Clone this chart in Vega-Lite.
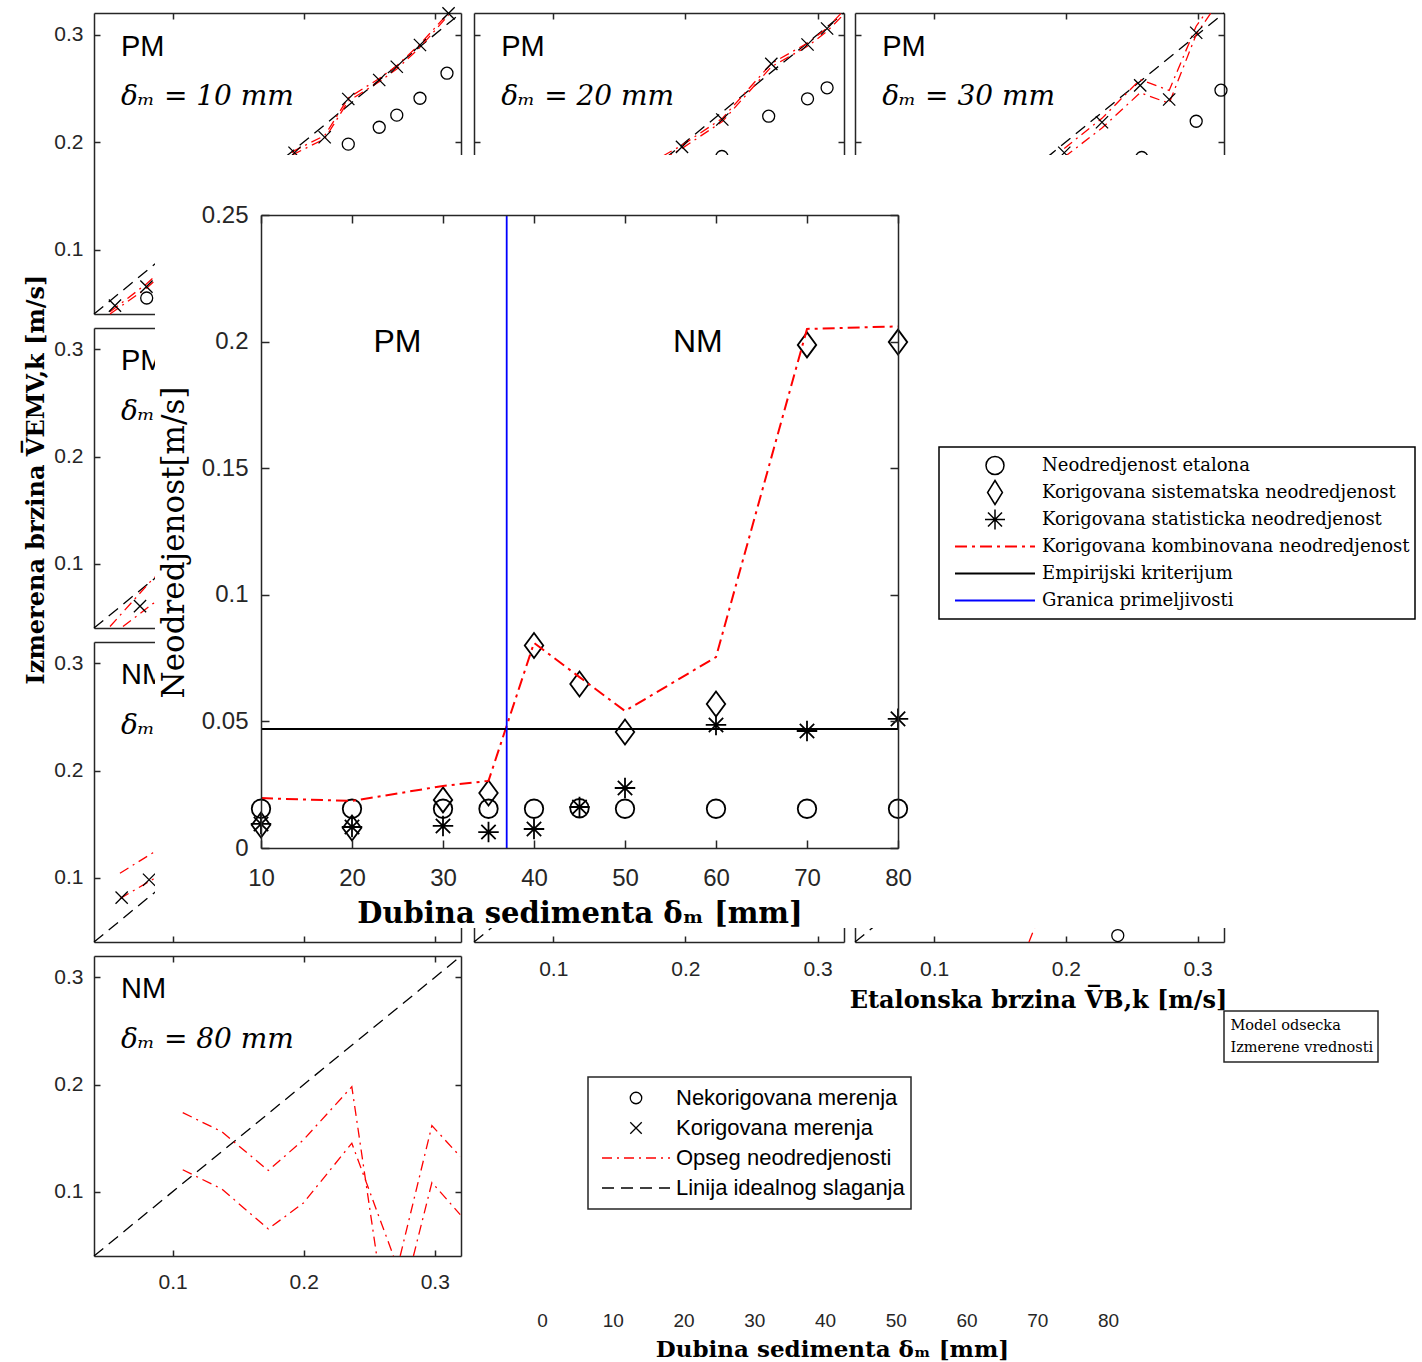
{
  "$schema": "https://vega.github.io/schema/vega-lite/v6.json",
  "autosize": {"type": "none"},
  "width": 1422,
  "height": 1362,
  "padding": 0,
  "background": "white",
  "config": {
    "view": {"stroke": null},
    "axis": {
      "grid": false,
      "domainColor": "#262626",
      "domainWidth": 1.5,
      "tickColor": "#262626",
      "tickWidth": 1.5,
      "labelColor": "#262626",
      "labelFont": "Liberation Sans",
      "labelFontSize": 21,
      "labelFlush": false,
      "labelOverlap": false,
      "titleColor": "black"
    }
  },
  "datasets": {
    "pts": [
      {"d": 10, "u": 0.0155, "s": "Neodredjenost etalona"},
      {"d": 20, "u": 0.0155, "s": "Neodredjenost etalona"},
      {"d": 30, "u": 0.0155, "s": "Neodredjenost etalona"},
      {"d": 35, "u": 0.0155, "s": "Neodredjenost etalona"},
      {"d": 40, "u": 0.0155, "s": "Neodredjenost etalona"},
      {"d": 45, "u": 0.0157, "s": "Neodredjenost etalona"},
      {"d": 50, "u": 0.0155, "s": "Neodredjenost etalona"},
      {"d": 60, "u": 0.0155, "s": "Neodredjenost etalona"},
      {"d": 70, "u": 0.0155, "s": "Neodredjenost etalona"},
      {"d": 80, "u": 0.0155, "s": "Neodredjenost etalona"},
      {"d": 10, "u": 0.0091, "s": "Korigovana sistematska neodredjenost"},
      {"d": 20, "u": 0.0079, "s": "Korigovana sistematska neodredjenost"},
      {"d": 30, "u": 0.019, "s": "Korigovana sistematska neodredjenost"},
      {"d": 35, "u": 0.0217, "s": "Korigovana sistematska neodredjenost"},
      {"d": 40, "u": 0.080, "s": "Korigovana sistematska neodredjenost"},
      {"d": 45, "u": 0.0648, "s": "Korigovana sistematska neodredjenost"},
      {"d": 50, "u": 0.0458, "s": "Korigovana sistematska neodredjenost"},
      {"d": 60, "u": 0.0569, "s": "Korigovana sistematska neodredjenost"},
      {"d": 70, "u": 0.1987, "s": "Korigovana sistematska neodredjenost"},
      {"d": 80, "u": 0.1998, "s": "Korigovana sistematska neodredjenost"},
      {"d": 10, "u": 0.0095, "s": "Korigovana statisticka neodredjenost"},
      {"d": 20, "u": 0.0083, "s": "Korigovana statisticka neodredjenost"},
      {"d": 30, "u": 0.0087, "s": "Korigovana statisticka neodredjenost"},
      {"d": 35, "u": 0.0063, "s": "Korigovana statisticka neodredjenost"},
      {"d": 40, "u": 0.0075, "s": "Korigovana statisticka neodredjenost"},
      {"d": 45, "u": 0.0162, "s": "Korigovana statisticka neodredjenost"},
      {"d": 50, "u": 0.0237, "s": "Korigovana statisticka neodredjenost"},
      {"d": 60, "u": 0.0486, "s": "Korigovana statisticka neodredjenost"},
      {"d": 70, "u": 0.0462, "s": "Korigovana statisticka neodredjenost"},
      {"d": 80, "u": 0.0510, "s": "Korigovana statisticka neodredjenost"}
    ],
    "komb": [
      {"d": 10, "u": 0.0197, "s": "Korigovana kombinovana neodredjenost"},
      {"d": 20, "u": 0.0186, "s": "Korigovana kombinovana neodredjenost"},
      {"d": 30, "u": 0.0245, "s": "Korigovana kombinovana neodredjenost"},
      {"d": 35, "u": 0.0265, "s": "Korigovana kombinovana neodredjenost"},
      {"d": 40, "u": 0.081, "s": "Korigovana kombinovana neodredjenost"},
      {"d": 45, "u": 0.0675, "s": "Korigovana kombinovana neodredjenost"},
      {"d": 50, "u": 0.0541, "s": "Korigovana kombinovana neodredjenost"},
      {"d": 60, "u": 0.0754, "s": "Korigovana kombinovana neodredjenost"},
      {"d": 70, "u": 0.205, "s": "Korigovana kombinovana neodredjenost"},
      {"d": 80, "u": 0.206, "s": "Korigovana kombinovana neodredjenost"}
    ],
    "crit": [{"u": 0.047, "s": "Empirijski kriterijum"}],
    "gran": [{"d": 37, "s": "Granica primeljivosti"}],
    "lbl": [{"d": 25, "u": 0.2, "t": "PM"}, {"d": 58, "u": 0.2, "t": "NM"}],
    "ideal": [
      {"x": 0.04, "y": 0.04, "p": "Linija idealnog slaganja"},
      {"x": 0.32, "y": 0.32, "p": "Linija idealnog slaganja"}
    ],
    "bx": [{"d": 0, "m": "Model odsecka"}, {"d": 80, "m": "Izmerene vrednosti"}],
    "ptxt": [
      {"pn": "r1c1", "kind": "r", "t": "PM", "x": 0.0606, "y": 0.2888},
      {"pn": "r1c1", "kind": "d", "t": "δₘ = 10 mm", "x": 0.0606, "y": 0.2414},
      {"pn": "r1c2", "kind": "r", "t": "PM", "x": 0.0606, "y": 0.2888},
      {"pn": "r1c2", "kind": "d", "t": "δₘ = 20 mm", "x": 0.0606, "y": 0.2414},
      {"pn": "r1c3", "kind": "r", "t": "PM", "x": 0.0606, "y": 0.2888},
      {"pn": "r1c3", "kind": "d", "t": "δₘ = 30 mm", "x": 0.0606, "y": 0.2414},
      {"pn": "r2c1", "kind": "r", "t": "PM", "x": 0.0606, "y": 0.2888},
      {"pn": "r2c1", "kind": "d", "t": "δₘ = 35 mm", "x": 0.0606, "y": 0.2414},
      {"pn": "r3c1", "kind": "r", "t": "NM", "x": 0.0606, "y": 0.2888},
      {"pn": "r3c1", "kind": "d", "t": "δₘ = 50 mm", "x": 0.0606, "y": 0.2414},
      {"pn": "r4c1", "kind": "r", "t": "NM", "x": 0.0606, "y": 0.2888},
      {"pn": "r4c1", "kind": "d", "t": "δₘ = 80 mm", "x": 0.0606, "y": 0.2414}
    ],
    "pan": [
      {"pn": "r1c1", "p": "Korigovana merenja", "g": "x", "x": 0.056, "y": 0.0478},
      {"pn": "r1c1", "p": "Korigovana merenja", "g": "x", "x": 0.080, "y": 0.0655},
      {"pn": "r1c1", "p": "Korigovana merenja", "g": "x", "x": 0.193, "y": 0.190},
      {"pn": "r1c1", "p": "Korigovana merenja", "g": "x", "x": 0.216, "y": 0.2044},
      {"pn": "r1c1", "p": "Korigovana merenja", "g": "x", "x": 0.234, "y": 0.240},
      {"pn": "r1c1", "p": "Korigovana merenja", "g": "x", "x": 0.2576, "y": 0.2577},
      {"pn": "r1c1", "p": "Korigovana merenja", "g": "x", "x": 0.271, "y": 0.270},
      {"pn": "r1c1", "p": "Korigovana merenja", "g": "x", "x": 0.2887, "y": 0.2902},
      {"pn": "r1c1", "p": "Korigovana merenja", "g": "x", "x": 0.3105, "y": 0.3197},
      {"pn": "r1c1", "p": "Nekorigovana merenja", "g": "o", "x": 0.0802, "y": 0.0549},
      {"pn": "r1c1", "p": "Nekorigovana merenja", "g": "o", "x": 0.234, "y": 0.198},
      {"pn": "r1c1", "p": "Nekorigovana merenja", "g": "o", "x": 0.2576, "y": 0.2137},
      {"pn": "r1c1", "p": "Nekorigovana merenja", "g": "o", "x": 0.271, "y": 0.225},
      {"pn": "r1c1", "p": "Nekorigovana merenja", "g": "o", "x": 0.2887, "y": 0.2407},
      {"pn": "r1c1", "p": "Nekorigovana merenja", "g": "o", "x": 0.3093, "y": 0.264},
      {"pn": "r1c1", "p": "Opseg neodredjenosti", "g": "u", "x": 0.0522, "y": 0.042},
      {"pn": "r1c1", "p": "Opseg neodredjenosti", "g": "u", "x": 0.080, "y": 0.068},
      {"pn": "r1c1", "p": "Opseg neodredjenosti", "g": "u", "x": 0.193, "y": 0.192},
      {"pn": "r1c1", "p": "Opseg neodredjenosti", "g": "u", "x": 0.216, "y": 0.206},
      {"pn": "r1c1", "p": "Opseg neodredjenosti", "g": "u", "x": 0.234, "y": 0.241},
      {"pn": "r1c1", "p": "Opseg neodredjenosti", "g": "u", "x": 0.2576, "y": 0.259},
      {"pn": "r1c1", "p": "Opseg neodredjenosti", "g": "u", "x": 0.271, "y": 0.271},
      {"pn": "r1c1", "p": "Opseg neodredjenosti", "g": "u", "x": 0.2887, "y": 0.291},
      {"pn": "r1c1", "p": "Opseg neodredjenosti", "g": "u", "x": 0.3105, "y": 0.32},
      {"pn": "r1c1", "p": "Opseg neodredjenosti", "g": "l", "x": 0.0522, "y": 0.040},
      {"pn": "r1c1", "p": "Opseg neodredjenosti", "g": "l", "x": 0.080, "y": 0.064},
      {"pn": "r1c1", "p": "Opseg neodredjenosti", "g": "l", "x": 0.193, "y": 0.189},
      {"pn": "r1c1", "p": "Opseg neodredjenosti", "g": "l", "x": 0.216, "y": 0.203},
      {"pn": "r1c1", "p": "Opseg neodredjenosti", "g": "l", "x": 0.234, "y": 0.238},
      {"pn": "r1c1", "p": "Opseg neodredjenosti", "g": "l", "x": 0.2576, "y": 0.256},
      {"pn": "r1c1", "p": "Opseg neodredjenosti", "g": "l", "x": 0.271, "y": 0.268},
      {"pn": "r1c1", "p": "Opseg neodredjenosti", "g": "l", "x": 0.2887, "y": 0.288},
      {"pn": "r1c1", "p": "Opseg neodredjenosti", "g": "l", "x": 0.3105, "y": 0.318},
      {"pn": "r1c2", "p": "Korigovana merenja", "g": "x", "x": 0.1974, "y": 0.1955},
      {"pn": "r1c2", "p": "Korigovana merenja", "g": "x", "x": 0.2279, "y": 0.2209},
      {"pn": "r1c2", "p": "Korigovana merenja", "g": "x", "x": 0.265, "y": 0.2727},
      {"pn": "r1c2", "p": "Korigovana merenja", "g": "x", "x": 0.2924, "y": 0.2907},
      {"pn": "r1c2", "p": "Korigovana merenja", "g": "x", "x": 0.3072, "y": 0.3056},
      {"pn": "r1c2", "p": "Nekorigovana merenja", "g": "o", "x": 0.2276, "y": 0.1865},
      {"pn": "r1c2", "p": "Nekorigovana merenja", "g": "o", "x": 0.263, "y": 0.224},
      {"pn": "r1c2", "p": "Nekorigovana merenja", "g": "o", "x": 0.2924, "y": 0.2402},
      {"pn": "r1c2", "p": "Nekorigovana merenja", "g": "o", "x": 0.3072, "y": 0.2504},
      {"pn": "r1c2", "p": "Opseg neodredjenosti", "g": "u", "x": 0.183, "y": 0.187},
      {"pn": "r1c2", "p": "Opseg neodredjenosti", "g": "u", "x": 0.1974, "y": 0.197},
      {"pn": "r1c2", "p": "Opseg neodredjenosti", "g": "u", "x": 0.2279, "y": 0.222},
      {"pn": "r1c2", "p": "Opseg neodredjenosti", "g": "u", "x": 0.265, "y": 0.273},
      {"pn": "r1c2", "p": "Opseg neodredjenosti", "g": "u", "x": 0.2924, "y": 0.292},
      {"pn": "r1c2", "p": "Opseg neodredjenosti", "g": "u", "x": 0.3072, "y": 0.306},
      {"pn": "r1c2", "p": "Opseg neodredjenosti", "g": "u", "x": 0.318, "y": 0.32},
      {"pn": "r1c2", "p": "Opseg neodredjenosti", "g": "l", "x": 0.183, "y": 0.184},
      {"pn": "r1c2", "p": "Opseg neodredjenosti", "g": "l", "x": 0.1974, "y": 0.194},
      {"pn": "r1c2", "p": "Opseg neodredjenosti", "g": "l", "x": 0.2279, "y": 0.219},
      {"pn": "r1c2", "p": "Opseg neodredjenosti", "g": "l", "x": 0.265, "y": 0.270},
      {"pn": "r1c2", "p": "Opseg neodredjenosti", "g": "l", "x": 0.2924, "y": 0.289},
      {"pn": "r1c2", "p": "Opseg neodredjenosti", "g": "l", "x": 0.3072, "y": 0.303},
      {"pn": "r1c2", "p": "Opseg neodredjenosti", "g": "l", "x": 0.32, "y": 0.319},
      {"pn": "r1c3", "p": "Korigovana merenja", "g": "x", "x": 0.1988, "y": 0.19},
      {"pn": "r1c3", "p": "Korigovana merenja", "g": "x", "x": 0.2274, "y": 0.2184},
      {"pn": "r1c3", "p": "Korigovana merenja", "g": "x", "x": 0.2564, "y": 0.2526},
      {"pn": "r1c3", "p": "Korigovana merenja", "g": "x", "x": 0.2784, "y": 0.2395},
      {"pn": "r1c3", "p": "Korigovana merenja", "g": "x", "x": 0.2989, "y": 0.3016},
      {"pn": "r1c3", "p": "Nekorigovana merenja", "g": "o", "x": 0.2576, "y": 0.1856},
      {"pn": "r1c3", "p": "Nekorigovana merenja", "g": "o", "x": 0.2989, "y": 0.2193},
      {"pn": "r1c3", "p": "Nekorigovana merenja", "g": "o", "x": 0.3177, "y": 0.2482},
      {"pn": "r1c3", "p": "Opseg neodredjenosti", "g": "u", "x": 0.1988, "y": 0.194},
      {"pn": "r1c3", "p": "Opseg neodredjenosti", "g": "u", "x": 0.2274, "y": 0.222},
      {"pn": "r1c3", "p": "Opseg neodredjenosti", "g": "u", "x": 0.2564, "y": 0.2581},
      {"pn": "r1c3", "p": "Opseg neodredjenosti", "g": "u", "x": 0.2784, "y": 0.248},
      {"pn": "r1c3", "p": "Opseg neodredjenosti", "g": "u", "x": 0.2989, "y": 0.3077},
      {"pn": "r1c3", "p": "Opseg neodredjenosti", "g": "u", "x": 0.306, "y": 0.32},
      {"pn": "r1c3", "p": "Opseg neodredjenosti", "g": "l", "x": 0.1988, "y": 0.186},
      {"pn": "r1c3", "p": "Opseg neodredjenosti", "g": "l", "x": 0.2274, "y": 0.213},
      {"pn": "r1c3", "p": "Opseg neodredjenosti", "g": "l", "x": 0.2564, "y": 0.2458},
      {"pn": "r1c3", "p": "Opseg neodredjenosti", "g": "l", "x": 0.2784, "y": 0.236},
      {"pn": "r1c3", "p": "Opseg neodredjenosti", "g": "l", "x": 0.2989, "y": 0.300},
      {"pn": "r1c3", "p": "Opseg neodredjenosti", "g": "l", "x": 0.310, "y": 0.32},
      {"pn": "r2c1", "p": "Korigovana merenja", "g": "x", "x": 0.0751, "y": 0.0604},
      {"pn": "r2c1", "p": "Opseg neodredjenosti", "g": "u", "x": 0.0522, "y": 0.0414},
      {"pn": "r2c1", "p": "Opseg neodredjenosti", "g": "u", "x": 0.0853, "y": 0.0864},
      {"pn": "r2c1", "p": "Opseg neodredjenosti", "g": "u", "x": 0.095, "y": 0.094},
      {"pn": "r2c1", "p": "Opseg neodredjenosti", "g": "l", "x": 0.0621, "y": 0.0414},
      {"pn": "r2c1", "p": "Opseg neodredjenosti", "g": "l", "x": 0.085, "y": 0.0628},
      {"pn": "r2c1", "p": "Opseg neodredjenosti", "g": "l", "x": 0.095, "y": 0.070},
      {"pn": "r3c1", "p": "Korigovana merenja", "g": "x", "x": 0.0611, "y": 0.0814},
      {"pn": "r3c1", "p": "Korigovana merenja", "g": "x", "x": 0.082, "y": 0.0981},
      {"pn": "r3c1", "p": "Opseg neodredjenosti", "g": "u", "x": 0.0598, "y": 0.1042},
      {"pn": "r3c1", "p": "Opseg neodredjenosti", "g": "u", "x": 0.085, "y": 0.1233},
      {"pn": "r3c1", "p": "Opseg neodredjenosti", "g": "u", "x": 0.095, "y": 0.130},
      {"pn": "r3c1", "p": "Opseg neodredjenosti", "g": "l", "x": 0.0598, "y": 0.0805},
      {"pn": "r3c1", "p": "Opseg neodredjenosti", "g": "l", "x": 0.085, "y": 0.0986},
      {"pn": "r3c1", "p": "Opseg neodredjenosti", "g": "l", "x": 0.095, "y": 0.105},
      {"pn": "r3c3", "p": "Nekorigovana merenja", "g": "o", "x": 0.2394, "y": 0.046},
      {"pn": "r3c3", "p": "Opseg neodredjenosti", "g": "l", "x": 0.172, "y": 0.04},
      {"pn": "r3c3", "p": "Opseg neodredjenosti", "g": "l", "x": 0.18, "y": 0.065},
      {"pn": "r4c1", "p": "Opseg neodredjenosti", "g": "ua", "x": 0.1077, "y": 0.1738},
      {"pn": "r4c1", "p": "Opseg neodredjenosti", "g": "ua", "x": 0.1375, "y": 0.156},
      {"pn": "r4c1", "p": "Opseg neodredjenosti", "g": "ua", "x": 0.173, "y": 0.1198},
      {"pn": "r4c1", "p": "Opseg neodredjenosti", "g": "ua", "x": 0.1998, "y": 0.1484},
      {"pn": "r4c1", "p": "Opseg neodredjenosti", "g": "ua", "x": 0.2367, "y": 0.198},
      {"pn": "r4c1", "p": "Opseg neodredjenosti", "g": "ua", "x": 0.2557, "y": 0.04},
      {"pn": "r4c1", "p": "Opseg neodredjenosti", "g": "ub", "x": 0.2736, "y": 0.04},
      {"pn": "r4c1", "p": "Opseg neodredjenosti", "g": "ub", "x": 0.2978, "y": 0.1617},
      {"pn": "r4c1", "p": "Opseg neodredjenosti", "g": "ub", "x": 0.3194, "y": 0.1329},
      {"pn": "r4c1", "p": "Opseg neodredjenosti", "g": "la", "x": 0.1077, "y": 0.1205},
      {"pn": "r4c1", "p": "Opseg neodredjenosti", "g": "la", "x": 0.1375, "y": 0.1025},
      {"pn": "r4c1", "p": "Opseg neodredjenosti", "g": "la", "x": 0.173, "y": 0.0653},
      {"pn": "r4c1", "p": "Opseg neodredjenosti", "g": "la", "x": 0.1998, "y": 0.0895},
      {"pn": "r4c1", "p": "Opseg neodredjenosti", "g": "la", "x": 0.2367, "y": 0.1453},
      {"pn": "r4c1", "p": "Opseg neodredjenosti", "g": "la", "x": 0.2685, "y": 0.04},
      {"pn": "r4c1", "p": "Opseg neodredjenosti", "g": "lb", "x": 0.2837, "y": 0.04},
      {"pn": "r4c1", "p": "Opseg neodredjenosti", "g": "lb", "x": 0.2978, "y": 0.1086},
      {"pn": "r4c1", "p": "Opseg neodredjenosti", "g": "lb", "x": 0.3194, "y": 0.0786}
    ]
  },
  "layer": [
    {
      "layer": [
        {
          "data": {"name": "ideal"},
          "mark": {"type": "line", "strokeDash": [12, 7], "strokeWidth": 1.3},
          "encoding": {
            "x": {"field": "x", "type": "quantitative", "scale": {"domain": [0.04, 0.32], "range": [94, 461], "nice": false, "zero": false},
              "axis": {"orient": "bottom", "offset": -1048, "values": [0.1, 0.2, 0.3], "tickSize": -6, "labels": false, "title": null}},
            "y": {"field": "y", "type": "quantitative", "scale": {"domain": [0.04, 0.32], "range": [314, 13], "nice": false, "zero": false},
              "axis": {"orient": "left", "offset": -94, "values": [0.1, 0.2, 0.3], "tickSize": -6, "labelPadding": 17, "format": "~g", "title": null}},
            "stroke": {"field": "p", "type": "nominal",
              "scale": {"domain": ["Nekorigovana merenja", "Korigovana merenja", "Opseg neodredjenosti", "Linija idealnog slaganja"], "range": ["#000000", "#000000", "#ff0000", "#000000"]},
              "legend": {
                "orient": "none", "legendX": 588, "legendY": 1077, "title": null, "padding": 6,
                "strokeColor": "#262626", "fillColor": "white",
                "labelFont": "Liberation Sans", "labelFontSize": 22, "labelColor": "black", "labelOffset": 12, "labelLimit": 700,
                "symbolSize": 144, "symbolStrokeWidth": 1.2, "rowPadding": 0, "clipHeight": 30,
                "encoding": {
                  "legend": {"strokeWidth": {"value": 1.5}},
                  "symbols": {
                    "x": {"value": 42},
                    "shape": {"value": {"expr": "datum.value === 'Nekorigovana merenja' ? 'circle' : datum.value === 'Korigovana merenja' ? 'M-1,-1L1,1M-1,1L1,-1' : 'stroke'"}},
                    "size": {"value": {"expr": "datum.value === 'Nekorigovana merenja' ? 132 : datum.value === 'Korigovana merenja' ? 132 : 4624"}},
                    "stroke": {"value": {"expr": "datum.value === 'Opseg neodredjenosti' ? '#ff0000' : '#000000'"}},
                    "strokeDash": {"value": {"expr": "datum.value === 'Opseg neodredjenosti' ? [10,5,2,5] : datum.value === 'Linija idealnog slaganja' ? [12,7] : []"}},
                    "strokeWidth": {"value": 1.3},
                    "fill": {"value": "transparent"},
                    "opacity": {"value": 1}
                  }
                }
              }}
          }
        },
        {
          "data": {"name": "ideal"},
          "mark": {"type": "line", "opacity": 0},
          "encoding": {
            "x": {"field": "x", "type": "quantitative", "scale": {"domain": [0.04, 0.32], "range": [94, 461], "nice": false, "zero": false},
              "axis": {"orient": "top", "offset": -13, "values": [0.1, 0.2, 0.3], "tickSize": -6, "labels": false, "title": null}},
            "y": {"field": "y", "type": "quantitative", "scale": {"domain": [0.04, 0.32], "range": [314, 13], "nice": false, "zero": false},
              "axis": {"orient": "right", "offset": -961, "values": [0.1, 0.2, 0.3], "tickSize": -6, "labels": false, "title": null}}
          }
        },
        {
          "data": {"name": "pan"},
          "transform": [{"filter": "datum.pn === 'r1c1' && datum.p === 'Opseg neodredjenosti'"}],
          "mark": {"type": "line", "strokeDash": [10, 5, 2, 5], "strokeWidth": 1.3},
          "encoding": {
            "x": {"field": "x", "type": "quantitative", "scale": {"domain": [0.04, 0.32], "range": [94, 461], "nice": false, "zero": false}, "axis": null},
            "y": {"field": "y", "type": "quantitative", "scale": {"domain": [0.04, 0.32], "range": [314, 13], "nice": false, "zero": false}, "axis": null},
            "detail": {"field": "g"},
            "stroke": {"field": "p", "type": "nominal", "scale": {"domain": ["Nekorigovana merenja", "Korigovana merenja", "Opseg neodredjenosti", "Linija idealnog slaganja"], "range": ["#000000", "#000000", "#ff0000", "#000000"]}}
          }
        },
        {
          "data": {"name": "pan"},
          "transform": [{"filter": "datum.pn === 'r1c1' && datum.p === 'Nekorigovana merenja'"}],
          "mark": {"type": "point", "shape": "circle", "size": 144, "filled": false, "strokeWidth": 1.3, "opacity": 1},
          "encoding": {
            "x": {"field": "x", "type": "quantitative", "scale": {"domain": [0.04, 0.32], "range": [94, 461], "nice": false, "zero": false}, "axis": null},
            "y": {"field": "y", "type": "quantitative", "scale": {"domain": [0.04, 0.32], "range": [314, 13], "nice": false, "zero": false}, "axis": null},
            "stroke": {"field": "p", "type": "nominal", "scale": {"domain": ["Nekorigovana merenja", "Korigovana merenja", "Opseg neodredjenosti", "Linija idealnog slaganja"], "range": ["#000000", "#000000", "#ff0000", "#000000"]}}
          }
        },
        {
          "data": {"name": "pan"},
          "transform": [{"filter": "datum.pn === 'r1c1' && datum.p === 'Korigovana merenja'"}],
          "mark": {"type": "point", "shape": "M-1,-1L1,1M-1,1L1,-1", "size": 150, "filled": false, "strokeWidth": 1.3, "opacity": 1},
          "encoding": {
            "x": {"field": "x", "type": "quantitative", "scale": {"domain": [0.04, 0.32], "range": [94, 461], "nice": false, "zero": false}, "axis": null},
            "y": {"field": "y", "type": "quantitative", "scale": {"domain": [0.04, 0.32], "range": [314, 13], "nice": false, "zero": false}, "axis": null},
            "stroke": {"field": "p", "type": "nominal", "scale": {"domain": ["Nekorigovana merenja", "Korigovana merenja", "Opseg neodredjenosti", "Linija idealnog slaganja"], "range": ["#000000", "#000000", "#ff0000", "#000000"]}}
          }
        },
        {
          "data": {"name": "ptxt"},
          "transform": [{"filter": "datum.pn === 'r1c1' && datum.kind === 'r'"}],
          "mark": {"type": "text", "font": "Liberation Sans", "fontSize": 29, "align": "left", "baseline": "middle", "color": "black"},
          "encoding": {
            "x": {"field": "x", "type": "quantitative", "scale": {"domain": [0.04, 0.32], "range": [94, 461], "nice": false, "zero": false}, "axis": null},
            "y": {"field": "y", "type": "quantitative", "scale": {"domain": [0.04, 0.32], "range": [314, 13], "nice": false, "zero": false}, "axis": null},
            "text": {"field": "t"}
          }
        },
        {
          "data": {"name": "ptxt"},
          "transform": [{"filter": "datum.pn === 'r1c1' && datum.kind === 'd'"}],
          "mark": {"type": "text", "font": "DejaVu Serif", "fontStyle": "italic", "fontSize": 28, "align": "left", "baseline": "middle", "color": "black"},
          "encoding": {
            "x": {"field": "x", "type": "quantitative", "scale": {"domain": [0.04, 0.32], "range": [94, 461], "nice": false, "zero": false}, "axis": null},
            "y": {"field": "y", "type": "quantitative", "scale": {"domain": [0.04, 0.32], "range": [314, 13], "nice": false, "zero": false}, "axis": null},
            "text": {"field": "t"}
          }
        }
      ],
      "resolve": {"axis": {"x": "independent", "y": "independent"}}
    },
    {
      "layer": [
        {
          "data": {"name": "ideal"},
          "mark": {"type": "line", "strokeDash": [12, 7], "strokeWidth": 1.3},
          "encoding": {
            "x": {"field": "x", "type": "quantitative", "scale": {"domain": [0.04, 0.32], "range": [474, 844], "nice": false, "zero": false},
              "axis": {"orient": "bottom", "offset": -1048, "values": [0.1, 0.2, 0.3], "tickSize": -6, "labels": false, "title": null}},
            "y": {"field": "y", "type": "quantitative", "scale": {"domain": [0.04, 0.32], "range": [314, 13], "nice": false, "zero": false},
              "axis": {"orient": "left", "offset": -474, "values": [0.1, 0.2, 0.3], "tickSize": -6, "labels": false, "title": null}},
            "stroke": {"field": "p", "type": "nominal", "scale": {"domain": ["Nekorigovana merenja", "Korigovana merenja", "Opseg neodredjenosti", "Linija idealnog slaganja"], "range": ["#000000", "#000000", "#ff0000", "#000000"]}}
          }
        },
        {
          "data": {"name": "ideal"},
          "mark": {"type": "line", "opacity": 0},
          "encoding": {
            "x": {"field": "x", "type": "quantitative", "scale": {"domain": [0.04, 0.32], "range": [474, 844], "nice": false, "zero": false},
              "axis": {"orient": "top", "offset": -13, "values": [0.1, 0.2, 0.3], "tickSize": -6, "labels": false, "title": null}},
            "y": {"field": "y", "type": "quantitative", "scale": {"domain": [0.04, 0.32], "range": [314, 13], "nice": false, "zero": false},
              "axis": {"orient": "right", "offset": -578, "values": [0.1, 0.2, 0.3], "tickSize": -6, "labels": false, "title": null}}
          }
        },
        {
          "data": {"name": "pan"},
          "transform": [{"filter": "datum.pn === 'r1c2' && datum.p === 'Opseg neodredjenosti'"}],
          "mark": {"type": "line", "strokeDash": [10, 5, 2, 5], "strokeWidth": 1.3},
          "encoding": {
            "x": {"field": "x", "type": "quantitative", "scale": {"domain": [0.04, 0.32], "range": [474, 844], "nice": false, "zero": false}, "axis": null},
            "y": {"field": "y", "type": "quantitative", "scale": {"domain": [0.04, 0.32], "range": [314, 13], "nice": false, "zero": false}, "axis": null},
            "detail": {"field": "g"},
            "stroke": {"field": "p", "type": "nominal", "scale": {"domain": ["Nekorigovana merenja", "Korigovana merenja", "Opseg neodredjenosti", "Linija idealnog slaganja"], "range": ["#000000", "#000000", "#ff0000", "#000000"]}}
          }
        },
        {
          "data": {"name": "pan"},
          "transform": [{"filter": "datum.pn === 'r1c2' && datum.p === 'Nekorigovana merenja'"}],
          "mark": {"type": "point", "shape": "circle", "size": 144, "filled": false, "strokeWidth": 1.3, "opacity": 1},
          "encoding": {
            "x": {"field": "x", "type": "quantitative", "scale": {"domain": [0.04, 0.32], "range": [474, 844], "nice": false, "zero": false}, "axis": null},
            "y": {"field": "y", "type": "quantitative", "scale": {"domain": [0.04, 0.32], "range": [314, 13], "nice": false, "zero": false}, "axis": null},
            "stroke": {"field": "p", "type": "nominal", "scale": {"domain": ["Nekorigovana merenja", "Korigovana merenja", "Opseg neodredjenosti", "Linija idealnog slaganja"], "range": ["#000000", "#000000", "#ff0000", "#000000"]}}
          }
        },
        {
          "data": {"name": "pan"},
          "transform": [{"filter": "datum.pn === 'r1c2' && datum.p === 'Korigovana merenja'"}],
          "mark": {"type": "point", "shape": "M-1,-1L1,1M-1,1L1,-1", "size": 150, "filled": false, "strokeWidth": 1.3, "opacity": 1},
          "encoding": {
            "x": {"field": "x", "type": "quantitative", "scale": {"domain": [0.04, 0.32], "range": [474, 844], "nice": false, "zero": false}, "axis": null},
            "y": {"field": "y", "type": "quantitative", "scale": {"domain": [0.04, 0.32], "range": [314, 13], "nice": false, "zero": false}, "axis": null},
            "stroke": {"field": "p", "type": "nominal", "scale": {"domain": ["Nekorigovana merenja", "Korigovana merenja", "Opseg neodredjenosti", "Linija idealnog slaganja"], "range": ["#000000", "#000000", "#ff0000", "#000000"]}}
          }
        },
        {
          "data": {"name": "ptxt"},
          "transform": [{"filter": "datum.pn === 'r1c2' && datum.kind === 'r'"}],
          "mark": {"type": "text", "font": "Liberation Sans", "fontSize": 29, "align": "left", "baseline": "middle", "color": "black"},
          "encoding": {
            "x": {"field": "x", "type": "quantitative", "scale": {"domain": [0.04, 0.32], "range": [474, 844], "nice": false, "zero": false}, "axis": null},
            "y": {"field": "y", "type": "quantitative", "scale": {"domain": [0.04, 0.32], "range": [314, 13], "nice": false, "zero": false}, "axis": null},
            "text": {"field": "t"}
          }
        },
        {
          "data": {"name": "ptxt"},
          "transform": [{"filter": "datum.pn === 'r1c2' && datum.kind === 'd'"}],
          "mark": {"type": "text", "font": "DejaVu Serif", "fontStyle": "italic", "fontSize": 28, "align": "left", "baseline": "middle", "color": "black"},
          "encoding": {
            "x": {"field": "x", "type": "quantitative", "scale": {"domain": [0.04, 0.32], "range": [474, 844], "nice": false, "zero": false}, "axis": null},
            "y": {"field": "y", "type": "quantitative", "scale": {"domain": [0.04, 0.32], "range": [314, 13], "nice": false, "zero": false}, "axis": null},
            "text": {"field": "t"}
          }
        }
      ],
      "resolve": {"axis": {"x": "independent", "y": "independent"}}
    },
    {
      "layer": [
        {
          "data": {"name": "ideal"},
          "mark": {"type": "line", "strokeDash": [12, 7], "strokeWidth": 1.3},
          "encoding": {
            "x": {"field": "x", "type": "quantitative", "scale": {"domain": [0.04, 0.32], "range": [855, 1224], "nice": false, "zero": false},
              "axis": {"orient": "bottom", "offset": -1048, "values": [0.1, 0.2, 0.3], "tickSize": -6, "labels": false, "title": null}},
            "y": {"field": "y", "type": "quantitative", "scale": {"domain": [0.04, 0.32], "range": [314, 13], "nice": false, "zero": false},
              "axis": {"orient": "left", "offset": -855, "values": [0.1, 0.2, 0.3], "tickSize": -6, "labels": false, "title": null}},
            "stroke": {"field": "p", "type": "nominal", "scale": {"domain": ["Nekorigovana merenja", "Korigovana merenja", "Opseg neodredjenosti", "Linija idealnog slaganja"], "range": ["#000000", "#000000", "#ff0000", "#000000"]}}
          }
        },
        {
          "data": {"name": "ideal"},
          "mark": {"type": "line", "opacity": 0},
          "encoding": {
            "x": {"field": "x", "type": "quantitative", "scale": {"domain": [0.04, 0.32], "range": [855, 1224], "nice": false, "zero": false},
              "axis": {"orient": "top", "offset": -13, "values": [0.1, 0.2, 0.3], "tickSize": -6, "labels": false, "title": null}},
            "y": {"field": "y", "type": "quantitative", "scale": {"domain": [0.04, 0.32], "range": [314, 13], "nice": false, "zero": false},
              "axis": {"orient": "right", "offset": -198, "values": [0.1, 0.2, 0.3], "tickSize": -6, "labels": false, "title": null}}
          }
        },
        {
          "data": {"name": "pan"},
          "transform": [{"filter": "datum.pn === 'r1c3' && datum.p === 'Opseg neodredjenosti'"}],
          "mark": {"type": "line", "strokeDash": [10, 5, 2, 5], "strokeWidth": 1.3},
          "encoding": {
            "x": {"field": "x", "type": "quantitative", "scale": {"domain": [0.04, 0.32], "range": [855, 1224], "nice": false, "zero": false}, "axis": null},
            "y": {"field": "y", "type": "quantitative", "scale": {"domain": [0.04, 0.32], "range": [314, 13], "nice": false, "zero": false}, "axis": null},
            "detail": {"field": "g"},
            "stroke": {"field": "p", "type": "nominal", "scale": {"domain": ["Nekorigovana merenja", "Korigovana merenja", "Opseg neodredjenosti", "Linija idealnog slaganja"], "range": ["#000000", "#000000", "#ff0000", "#000000"]}}
          }
        },
        {
          "data": {"name": "pan"},
          "transform": [{"filter": "datum.pn === 'r1c3' && datum.p === 'Nekorigovana merenja'"}],
          "mark": {"type": "point", "shape": "circle", "size": 144, "filled": false, "strokeWidth": 1.3, "opacity": 1},
          "encoding": {
            "x": {"field": "x", "type": "quantitative", "scale": {"domain": [0.04, 0.32], "range": [855, 1224], "nice": false, "zero": false}, "axis": null},
            "y": {"field": "y", "type": "quantitative", "scale": {"domain": [0.04, 0.32], "range": [314, 13], "nice": false, "zero": false}, "axis": null},
            "stroke": {"field": "p", "type": "nominal", "scale": {"domain": ["Nekorigovana merenja", "Korigovana merenja", "Opseg neodredjenosti", "Linija idealnog slaganja"], "range": ["#000000", "#000000", "#ff0000", "#000000"]}}
          }
        },
        {
          "data": {"name": "pan"},
          "transform": [{"filter": "datum.pn === 'r1c3' && datum.p === 'Korigovana merenja'"}],
          "mark": {"type": "point", "shape": "M-1,-1L1,1M-1,1L1,-1", "size": 150, "filled": false, "strokeWidth": 1.3, "opacity": 1},
          "encoding": {
            "x": {"field": "x", "type": "quantitative", "scale": {"domain": [0.04, 0.32], "range": [855, 1224], "nice": false, "zero": false}, "axis": null},
            "y": {"field": "y", "type": "quantitative", "scale": {"domain": [0.04, 0.32], "range": [314, 13], "nice": false, "zero": false}, "axis": null},
            "stroke": {"field": "p", "type": "nominal", "scale": {"domain": ["Nekorigovana merenja", "Korigovana merenja", "Opseg neodredjenosti", "Linija idealnog slaganja"], "range": ["#000000", "#000000", "#ff0000", "#000000"]}}
          }
        },
        {
          "data": {"name": "ptxt"},
          "transform": [{"filter": "datum.pn === 'r1c3' && datum.kind === 'r'"}],
          "mark": {"type": "text", "font": "Liberation Sans", "fontSize": 29, "align": "left", "baseline": "middle", "color": "black"},
          "encoding": {
            "x": {"field": "x", "type": "quantitative", "scale": {"domain": [0.04, 0.32], "range": [855, 1224], "nice": false, "zero": false}, "axis": null},
            "y": {"field": "y", "type": "quantitative", "scale": {"domain": [0.04, 0.32], "range": [314, 13], "nice": false, "zero": false}, "axis": null},
            "text": {"field": "t"}
          }
        },
        {
          "data": {"name": "ptxt"},
          "transform": [{"filter": "datum.pn === 'r1c3' && datum.kind === 'd'"}],
          "mark": {"type": "text", "font": "DejaVu Serif", "fontStyle": "italic", "fontSize": 28, "align": "left", "baseline": "middle", "color": "black"},
          "encoding": {
            "x": {"field": "x", "type": "quantitative", "scale": {"domain": [0.04, 0.32], "range": [855, 1224], "nice": false, "zero": false}, "axis": null},
            "y": {"field": "y", "type": "quantitative", "scale": {"domain": [0.04, 0.32], "range": [314, 13], "nice": false, "zero": false}, "axis": null},
            "text": {"field": "t"}
          }
        }
      ],
      "resolve": {"axis": {"x": "independent", "y": "independent"}}
    },
    {
      "layer": [
        {
          "data": {"name": "ideal"},
          "mark": {"type": "line", "strokeDash": [12, 7], "strokeWidth": 1.3},
          "encoding": {
            "x": {"field": "x", "type": "quantitative", "scale": {"domain": [0.04, 0.32], "range": [94, 461], "nice": false, "zero": false},
              "axis": {"orient": "bottom", "offset": -734, "values": [0.1, 0.2, 0.3], "tickSize": -6, "labels": false, "title": null}},
            "y": {"field": "y", "type": "quantitative", "scale": {"domain": [0.04, 0.32], "range": [628, 328], "nice": false, "zero": false},
              "axis": {"orient": "left", "offset": -94, "values": [0.1, 0.2, 0.3], "tickSize": -6, "labelPadding": 17, "format": "~g",
                "title": "Izmerena brzina V̅EMV,k [m/s]", "titleFont": "DejaVu Serif", "titleFontWeight": "bold", "titleFontSize": 24, "titleAngle": 270, "titleX": -51, "titleY": 479, "titleBaseline": "alphabetic"}},
            "stroke": {"field": "p", "type": "nominal", "scale": {"domain": ["Nekorigovana merenja", "Korigovana merenja", "Opseg neodredjenosti", "Linija idealnog slaganja"], "range": ["#000000", "#000000", "#ff0000", "#000000"]}}
          }
        },
        {
          "data": {"name": "ideal"},
          "mark": {"type": "line", "opacity": 0},
          "encoding": {
            "x": {"field": "x", "type": "quantitative", "scale": {"domain": [0.04, 0.32], "range": [94, 461], "nice": false, "zero": false},
              "axis": {"orient": "top", "offset": -328, "values": [0.1, 0.2, 0.3], "tickSize": -6, "labels": false, "title": null}},
            "y": {"field": "y", "type": "quantitative", "scale": {"domain": [0.04, 0.32], "range": [628, 328], "nice": false, "zero": false},
              "axis": {"orient": "right", "offset": -961, "values": [0.1, 0.2, 0.3], "tickSize": -6, "labels": false, "title": null}}
          }
        },
        {
          "data": {"name": "pan"},
          "transform": [{"filter": "datum.pn === 'r2c1' && datum.p === 'Opseg neodredjenosti'"}],
          "mark": {"type": "line", "strokeDash": [10, 5, 2, 5], "strokeWidth": 1.3},
          "encoding": {
            "x": {"field": "x", "type": "quantitative", "scale": {"domain": [0.04, 0.32], "range": [94, 461], "nice": false, "zero": false}, "axis": null},
            "y": {"field": "y", "type": "quantitative", "scale": {"domain": [0.04, 0.32], "range": [628, 328], "nice": false, "zero": false}, "axis": null},
            "detail": {"field": "g"},
            "stroke": {"field": "p", "type": "nominal", "scale": {"domain": ["Nekorigovana merenja", "Korigovana merenja", "Opseg neodredjenosti", "Linija idealnog slaganja"], "range": ["#000000", "#000000", "#ff0000", "#000000"]}}
          }
        },
        {
          "data": {"name": "pan"},
          "transform": [{"filter": "datum.pn === 'r2c1' && datum.p === 'Korigovana merenja'"}],
          "mark": {"type": "point", "shape": "M-1,-1L1,1M-1,1L1,-1", "size": 150, "filled": false, "strokeWidth": 1.3, "opacity": 1},
          "encoding": {
            "x": {"field": "x", "type": "quantitative", "scale": {"domain": [0.04, 0.32], "range": [94, 461], "nice": false, "zero": false}, "axis": null},
            "y": {"field": "y", "type": "quantitative", "scale": {"domain": [0.04, 0.32], "range": [628, 328], "nice": false, "zero": false}, "axis": null},
            "stroke": {"field": "p", "type": "nominal", "scale": {"domain": ["Nekorigovana merenja", "Korigovana merenja", "Opseg neodredjenosti", "Linija idealnog slaganja"], "range": ["#000000", "#000000", "#ff0000", "#000000"]}}
          }
        },
        {
          "data": {"name": "ptxt"},
          "transform": [{"filter": "datum.pn === 'r2c1' && datum.kind === 'r'"}],
          "mark": {"type": "text", "font": "Liberation Sans", "fontSize": 29, "align": "left", "baseline": "middle", "color": "black"},
          "encoding": {
            "x": {"field": "x", "type": "quantitative", "scale": {"domain": [0.04, 0.32], "range": [94, 461], "nice": false, "zero": false}, "axis": null},
            "y": {"field": "y", "type": "quantitative", "scale": {"domain": [0.04, 0.32], "range": [628, 328], "nice": false, "zero": false}, "axis": null},
            "text": {"field": "t"}
          }
        },
        {
          "data": {"name": "ptxt"},
          "transform": [{"filter": "datum.pn === 'r2c1' && datum.kind === 'd'"}],
          "mark": {"type": "text", "font": "DejaVu Serif", "fontStyle": "italic", "fontSize": 28, "align": "left", "baseline": "middle", "color": "black", "limit": 36, "ellipsis": "\u200b"},
          "encoding": {
            "x": {"field": "x", "type": "quantitative", "scale": {"domain": [0.04, 0.32], "range": [94, 461], "nice": false, "zero": false}, "axis": null},
            "y": {"field": "y", "type": "quantitative", "scale": {"domain": [0.04, 0.32], "range": [628, 328], "nice": false, "zero": false}, "axis": null},
            "text": {"field": "t"}
          }
        }
      ],
      "resolve": {"axis": {"x": "independent", "y": "independent"}}
    },
    {
      "layer": [
        {
          "data": {"name": "ideal"},
          "mark": {"type": "line", "strokeDash": [12, 7], "strokeWidth": 1.3},
          "encoding": {
            "x": {"field": "x", "type": "quantitative", "scale": {"domain": [0.04, 0.32], "range": [94, 461], "nice": false, "zero": false},
              "axis": {"orient": "bottom", "offset": -420, "values": [0.1, 0.2, 0.3], "tickSize": -6, "labels": false, "title": null}},
            "y": {"field": "y", "type": "quantitative", "scale": {"domain": [0.04, 0.32], "range": [942, 642], "nice": false, "zero": false},
              "axis": {"orient": "left", "offset": -94, "values": [0.1, 0.2, 0.3], "tickSize": -6, "labelPadding": 17, "format": "~g", "title": null}},
            "stroke": {"field": "p", "type": "nominal", "scale": {"domain": ["Nekorigovana merenja", "Korigovana merenja", "Opseg neodredjenosti", "Linija idealnog slaganja"], "range": ["#000000", "#000000", "#ff0000", "#000000"]}}
          }
        },
        {
          "data": {"name": "ideal"},
          "mark": {"type": "line", "opacity": 0},
          "encoding": {
            "x": {"field": "x", "type": "quantitative", "scale": {"domain": [0.04, 0.32], "range": [94, 461], "nice": false, "zero": false},
              "axis": {"orient": "top", "offset": -642, "values": [0.1, 0.2, 0.3], "tickSize": -6, "labels": false, "title": null}},
            "y": {"field": "y", "type": "quantitative", "scale": {"domain": [0.04, 0.32], "range": [942, 642], "nice": false, "zero": false},
              "axis": {"orient": "right", "offset": -961, "values": [0.1, 0.2, 0.3], "tickSize": -6, "labels": false, "title": null}}
          }
        },
        {
          "data": {"name": "pan"},
          "transform": [{"filter": "datum.pn === 'r3c1' && datum.p === 'Opseg neodredjenosti'"}],
          "mark": {"type": "line", "strokeDash": [10, 5, 2, 5], "strokeWidth": 1.3},
          "encoding": {
            "x": {"field": "x", "type": "quantitative", "scale": {"domain": [0.04, 0.32], "range": [94, 461], "nice": false, "zero": false}, "axis": null},
            "y": {"field": "y", "type": "quantitative", "scale": {"domain": [0.04, 0.32], "range": [942, 642], "nice": false, "zero": false}, "axis": null},
            "detail": {"field": "g"},
            "stroke": {"field": "p", "type": "nominal", "scale": {"domain": ["Nekorigovana merenja", "Korigovana merenja", "Opseg neodredjenosti", "Linija idealnog slaganja"], "range": ["#000000", "#000000", "#ff0000", "#000000"]}}
          }
        },
        {
          "data": {"name": "pan"},
          "transform": [{"filter": "datum.pn === 'r3c1' && datum.p === 'Korigovana merenja'"}],
          "mark": {"type": "point", "shape": "M-1,-1L1,1M-1,1L1,-1", "size": 150, "filled": false, "strokeWidth": 1.3, "opacity": 1},
          "encoding": {
            "x": {"field": "x", "type": "quantitative", "scale": {"domain": [0.04, 0.32], "range": [94, 461], "nice": false, "zero": false}, "axis": null},
            "y": {"field": "y", "type": "quantitative", "scale": {"domain": [0.04, 0.32], "range": [942, 642], "nice": false, "zero": false}, "axis": null},
            "stroke": {"field": "p", "type": "nominal", "scale": {"domain": ["Nekorigovana merenja", "Korigovana merenja", "Opseg neodredjenosti", "Linija idealnog slaganja"], "range": ["#000000", "#000000", "#ff0000", "#000000"]}}
          }
        },
        {
          "data": {"name": "ptxt"},
          "transform": [{"filter": "datum.pn === 'r3c1' && datum.kind === 'r'"}],
          "mark": {"type": "text", "font": "Liberation Sans", "fontSize": 29, "align": "left", "baseline": "middle", "color": "black"},
          "encoding": {
            "x": {"field": "x", "type": "quantitative", "scale": {"domain": [0.04, 0.32], "range": [94, 461], "nice": false, "zero": false}, "axis": null},
            "y": {"field": "y", "type": "quantitative", "scale": {"domain": [0.04, 0.32], "range": [942, 642], "nice": false, "zero": false}, "axis": null},
            "text": {"field": "t"}
          }
        },
        {
          "data": {"name": "ptxt"},
          "transform": [{"filter": "datum.pn === 'r3c1' && datum.kind === 'd'"}],
          "mark": {"type": "text", "font": "DejaVu Serif", "fontStyle": "italic", "fontSize": 28, "align": "left", "baseline": "middle", "color": "black", "limit": 36, "ellipsis": "\u200b"},
          "encoding": {
            "x": {"field": "x", "type": "quantitative", "scale": {"domain": [0.04, 0.32], "range": [94, 461], "nice": false, "zero": false}, "axis": null},
            "y": {"field": "y", "type": "quantitative", "scale": {"domain": [0.04, 0.32], "range": [942, 642], "nice": false, "zero": false}, "axis": null},
            "text": {"field": "t"}
          }
        }
      ],
      "resolve": {"axis": {"x": "independent", "y": "independent"}}
    },
    {
      "layer": [
        {
          "data": {"name": "ideal"},
          "mark": {"type": "line", "strokeDash": [12, 7], "strokeWidth": 1.3},
          "encoding": {
            "x": {"field": "x", "type": "quantitative", "scale": {"domain": [0.04, 0.32], "range": [474, 844], "nice": false, "zero": false},
              "axis": {"orient": "bottom", "offset": -420, "values": [0.1, 0.2, 0.3], "tickSize": -6, "labelPadding": 22, "labelBaseline": "top", "format": "~g", "title": null}},
            "y": {"field": "y", "type": "quantitative", "scale": {"domain": [0.04, 0.32], "range": [942, 642], "nice": false, "zero": false},
              "axis": {"orient": "left", "offset": -474, "values": [0.1, 0.2, 0.3], "tickSize": -6, "labels": false, "title": null}},
            "stroke": {"field": "p", "type": "nominal", "scale": {"domain": ["Nekorigovana merenja", "Korigovana merenja", "Opseg neodredjenosti", "Linija idealnog slaganja"], "range": ["#000000", "#000000", "#ff0000", "#000000"]}}
          }
        },
        {
          "data": {"name": "ideal"},
          "mark": {"type": "line", "opacity": 0},
          "encoding": {
            "x": {"field": "x", "type": "quantitative", "scale": {"domain": [0.04, 0.32], "range": [474, 844], "nice": false, "zero": false},
              "axis": {"orient": "top", "offset": -642, "values": [0.1, 0.2, 0.3], "tickSize": -6, "labels": false, "title": null}},
            "y": {"field": "y", "type": "quantitative", "scale": {"domain": [0.04, 0.32], "range": [942, 642], "nice": false, "zero": false},
              "axis": {"orient": "right", "offset": -578, "values": [0.1, 0.2, 0.3], "tickSize": -6, "labels": false, "title": null}}
          }
        }
      ],
      "resolve": {"axis": {"x": "independent", "y": "independent"}}
    },
    {
      "layer": [
        {
          "data": {"name": "ideal"},
          "mark": {"type": "line", "strokeDash": [12, 7], "strokeWidth": 1.3},
          "encoding": {
            "x": {"field": "x", "type": "quantitative", "scale": {"domain": [0.04, 0.32], "range": [855, 1224], "nice": false, "zero": false},
              "axis": {"orient": "bottom", "offset": -420, "values": [0.1, 0.2, 0.3], "tickSize": -6, "labelPadding": 22, "labelBaseline": "top", "format": "~g",
                "title": "Etalonska brzina V̅B,k [m/s]", "titleFont": "DejaVu Serif", "titleFontWeight": "bold", "titleFontSize": 24, "titleX": 1038, "titleY": 65, "titleBaseline": "alphabetic"}},
            "y": {"field": "y", "type": "quantitative", "scale": {"domain": [0.04, 0.32], "range": [942, 642], "nice": false, "zero": false},
              "axis": {"orient": "left", "offset": -855, "values": [0.1, 0.2, 0.3], "tickSize": -6, "labels": false, "title": null}},
            "stroke": {"field": "p", "type": "nominal", "scale": {"domain": ["Nekorigovana merenja", "Korigovana merenja", "Opseg neodredjenosti", "Linija idealnog slaganja"], "range": ["#000000", "#000000", "#ff0000", "#000000"]}}
          }
        },
        {
          "data": {"name": "ideal"},
          "mark": {"type": "line", "opacity": 0},
          "encoding": {
            "x": {"field": "x", "type": "quantitative", "scale": {"domain": [0.04, 0.32], "range": [855, 1224], "nice": false, "zero": false},
              "axis": {"orient": "top", "offset": -642, "values": [0.1, 0.2, 0.3], "tickSize": -6, "labels": false, "title": null}},
            "y": {"field": "y", "type": "quantitative", "scale": {"domain": [0.04, 0.32], "range": [942, 642], "nice": false, "zero": false},
              "axis": {"orient": "right", "offset": -198, "values": [0.1, 0.2, 0.3], "tickSize": -6, "labels": false, "title": null}}
          }
        },
        {
          "data": {"name": "pan"},
          "transform": [{"filter": "datum.pn === 'r3c3' && datum.p === 'Opseg neodredjenosti'"}],
          "mark": {"type": "line", "strokeDash": [10, 5, 2, 5], "strokeWidth": 1.3},
          "encoding": {
            "x": {"field": "x", "type": "quantitative", "scale": {"domain": [0.04, 0.32], "range": [855, 1224], "nice": false, "zero": false}, "axis": null},
            "y": {"field": "y", "type": "quantitative", "scale": {"domain": [0.04, 0.32], "range": [942, 642], "nice": false, "zero": false}, "axis": null},
            "detail": {"field": "g"},
            "stroke": {"field": "p", "type": "nominal", "scale": {"domain": ["Nekorigovana merenja", "Korigovana merenja", "Opseg neodredjenosti", "Linija idealnog slaganja"], "range": ["#000000", "#000000", "#ff0000", "#000000"]}}
          }
        },
        {
          "data": {"name": "pan"},
          "transform": [{"filter": "datum.pn === 'r3c3' && datum.p === 'Nekorigovana merenja'"}],
          "mark": {"type": "point", "shape": "circle", "size": 144, "filled": false, "strokeWidth": 1.3, "opacity": 1},
          "encoding": {
            "x": {"field": "x", "type": "quantitative", "scale": {"domain": [0.04, 0.32], "range": [855, 1224], "nice": false, "zero": false}, "axis": null},
            "y": {"field": "y", "type": "quantitative", "scale": {"domain": [0.04, 0.32], "range": [942, 642], "nice": false, "zero": false}, "axis": null},
            "stroke": {"field": "p", "type": "nominal", "scale": {"domain": ["Nekorigovana merenja", "Korigovana merenja", "Opseg neodredjenosti", "Linija idealnog slaganja"], "range": ["#000000", "#000000", "#ff0000", "#000000"]}}
          }
        }
      ],
      "resolve": {"axis": {"x": "independent", "y": "independent"}}
    },
    {
      "layer": [
        {
          "data": {"name": "ideal"},
          "mark": {"type": "line", "strokeDash": [12, 7], "strokeWidth": 1.3},
          "encoding": {
            "x": {"field": "x", "type": "quantitative", "scale": {"domain": [0.04, 0.32], "range": [94, 461], "nice": false, "zero": false},
              "axis": {"orient": "bottom", "offset": -106, "values": [0.1, 0.2, 0.3], "tickSize": -6, "labelPadding": 21, "labelBaseline": "top", "format": "~g", "title": null}},
            "y": {"field": "y", "type": "quantitative", "scale": {"domain": [0.04, 0.32], "range": [1256, 956], "nice": false, "zero": false},
              "axis": {"orient": "left", "offset": -94, "values": [0.1, 0.2, 0.3], "tickSize": -6, "labelPadding": 17, "format": "~g", "title": null}},
            "stroke": {"field": "p", "type": "nominal", "scale": {"domain": ["Nekorigovana merenja", "Korigovana merenja", "Opseg neodredjenosti", "Linija idealnog slaganja"], "range": ["#000000", "#000000", "#ff0000", "#000000"]}}
          }
        },
        {
          "data": {"name": "ideal"},
          "mark": {"type": "line", "opacity": 0},
          "encoding": {
            "x": {"field": "x", "type": "quantitative", "scale": {"domain": [0.04, 0.32], "range": [94, 461], "nice": false, "zero": false},
              "axis": {"orient": "top", "offset": -956, "values": [0.1, 0.2, 0.3], "tickSize": -6, "labels": false, "title": null}},
            "y": {"field": "y", "type": "quantitative", "scale": {"domain": [0.04, 0.32], "range": [1256, 956], "nice": false, "zero": false},
              "axis": {"orient": "right", "offset": -961, "values": [0.1, 0.2, 0.3], "tickSize": -6, "labels": false, "title": null}}
          }
        },
        {
          "data": {"name": "pan"},
          "transform": [{"filter": "datum.pn === 'r4c1' && datum.p === 'Opseg neodredjenosti'"}],
          "mark": {"type": "line", "strokeDash": [10, 5, 2, 5], "strokeWidth": 1.3},
          "encoding": {
            "x": {"field": "x", "type": "quantitative", "scale": {"domain": [0.04, 0.32], "range": [94, 461], "nice": false, "zero": false}, "axis": null},
            "y": {"field": "y", "type": "quantitative", "scale": {"domain": [0.04, 0.32], "range": [1256, 956], "nice": false, "zero": false}, "axis": null},
            "detail": {"field": "g"},
            "stroke": {"field": "p", "type": "nominal", "scale": {"domain": ["Nekorigovana merenja", "Korigovana merenja", "Opseg neodredjenosti", "Linija idealnog slaganja"], "range": ["#000000", "#000000", "#ff0000", "#000000"]}}
          }
        },
        {
          "data": {"name": "ptxt"},
          "transform": [{"filter": "datum.pn === 'r4c1' && datum.kind === 'r'"}],
          "mark": {"type": "text", "font": "Liberation Sans", "fontSize": 29, "align": "left", "baseline": "middle", "color": "black"},
          "encoding": {
            "x": {"field": "x", "type": "quantitative", "scale": {"domain": [0.04, 0.32], "range": [94, 461], "nice": false, "zero": false}, "axis": null},
            "y": {"field": "y", "type": "quantitative", "scale": {"domain": [0.04, 0.32], "range": [1256, 956], "nice": false, "zero": false}, "axis": null},
            "text": {"field": "t"}
          }
        },
        {
          "data": {"name": "ptxt"},
          "transform": [{"filter": "datum.pn === 'r4c1' && datum.kind === 'd'"}],
          "mark": {"type": "text", "font": "DejaVu Serif", "fontStyle": "italic", "fontSize": 28, "align": "left", "baseline": "middle", "color": "black"},
          "encoding": {
            "x": {"field": "x", "type": "quantitative", "scale": {"domain": [0.04, 0.32], "range": [94, 461], "nice": false, "zero": false}, "axis": null},
            "y": {"field": "y", "type": "quantitative", "scale": {"domain": [0.04, 0.32], "range": [1256, 956], "nice": false, "zero": false}, "axis": null},
            "text": {"field": "t"}
          }
        }
      ],
      "resolve": {"axis": {"x": "independent", "y": "independent"}}
    },
    {
      "data": {"name": "bx"},
      "mark": {"type": "point", "opacity": 0},
      "encoding": {
        "x": {"field": "d", "type": "quantitative", "scale": {"domain": [0, 80], "range": [542, 1108], "nice": false, "zero": false},
          "axis": {"orient": "bottom", "offset": -57, "values": [0, 10, 20, 30, 40, 50, 60, 70, 80], "format": "d", "domain": false, "ticks": false, "labelPadding": 6, "labelBaseline": "top", "labelFontSize": 19,
            "title": "Dubina sedimenta δₘ [mm]", "titleFont": "DejaVu Serif", "titleFontWeight": "bold", "titleFontSize": 23, "titleX": 832, "titleY": 51, "titleBaseline": "alphabetic"}},
        "shape": {"field": "m", "type": "nominal", "scale": {"domain": ["Model odsecka", "Izmerene vrednosti"], "range": ["circle", "circle"]},
          "legend": {"orient": "none", "legendX": 1224, "legendY": 1011, "title": null, "padding": 4,
            "strokeColor": "#262626", "fillColor": "white", "labelFont": "DejaVu Serif", "labelFontSize": 14.5, "labelColor": "black",
            "labelOffset": -12, "symbolSize": 1, "symbolOpacity": 0, "symbolStrokeWidth": 0, "rowPadding": 1, "clipHeight": 21,
            "encoding": {"legend": {"strokeWidth": {"value": 1.5}}}}}
      }
    },
    {
      "layer": [
        {
          "data": {"values": [{}]},
          "mark": {"type": "rect", "fill": "white", "stroke": null},
          "encoding": {
            "x": {"datum": -1.65, "type": "quantitative", "scale": {"domain": [10, 80], "range": [261, 898], "nice": false, "zero": false}, "axis": null},
            "x2": {"datum": 116.5},
            "y": {"datum": 0.2737, "type": "quantitative", "scale": {"domain": [0, 0.25], "range": [848, 215], "nice": false, "zero": false}, "axis": null},
            "y2": {"datum": -0.0316}
          }
        },
        {
          "data": {"name": "pts"},
          "transform": [{"filter": "datum.s === 'Neodredjenost etalona'"}],
          "mark": {"type": "point", "shape": "circle", "size": 342, "filled": false, "strokeWidth": 1.8, "opacity": 1},
          "encoding": {
            "x": {"field": "d", "type": "quantitative", "scale": {"domain": [10, 80], "range": [261, 898], "nice": false, "zero": false},
              "axis": {"orient": "bottom", "offset": -514, "zindex": 1, "values": [10, 20, 30, 40, 50, 60, 70, 80], "format": "d", "tickSize": -8, "labelPadding": 26, "labelBaseline": "top", "labelFontSize": 24,
                "title": "Dubina sedimenta δₘ [mm]", "titleFont": "DejaVu Serif", "titleFontWeight": "bold", "titleFontSize": 29, "titleX": 579.5, "titleY": 74, "titleBaseline": "alphabetic"}},
            "y": {"field": "u", "type": "quantitative", "scale": {"domain": [0, 0.25], "range": [848, 215], "nice": false, "zero": false},
              "axis": {"orient": "left", "offset": -261, "zindex": 1, "values": [0, 0.05, 0.1, 0.15, 0.2, 0.25], "format": "~g", "tickSize": -8, "labelPadding": 21, "labelFontSize": 24,
                "title": "Neodredjenost[m/s]", "titleFont": "DejaVu Serif", "titleFontWeight": "normal", "titleFontSize": 31, "titleAngle": 270, "titleX": -78, "titleY": 542, "titleBaseline": "alphabetic"}},
            "color": {"field": "s", "type": "nominal",
              "scale": {"domain": ["Neodredjenost etalona", "Korigovana sistematska neodredjenost", "Korigovana statisticka neodredjenost", "Korigovana kombinovana neodredjenost", "Empirijski kriterijum", "Granica primeljivosti"],
                "range": ["#000000", "#000000", "#000000", "#ff0000", "#000000", "#0000ff"]},
              "legend": {
                "orient": "none", "legendX": 939, "legendY": 447, "title": null, "padding": 5,
                "strokeColor": "black", "fillColor": "white",
                "labelFont": "DejaVu Serif", "labelFontSize": 18, "labelColor": "black", "labelOffset": 80, "labelLimit": 700,
                "symbolSize": 400, "symbolStrokeWidth": 1.5, "rowPadding": 0, "clipHeight": 27,
                "encoding": {
                  "legend": {"strokeWidth": {"value": 1.5}},
                  "symbols": {
                    "x": {"value": 51},
                    "shape": {"value": {"expr": "datum.value === 'Neodredjenost etalona' ? 'circle' : datum.value === 'Korigovana sistematska neodredjenost' ? 'M0,-1L0.62,0L0,1L-0.62,0Z' : datum.value === 'Korigovana statisticka neodredjenost' ? 'M-1,0L1,0M0,-1L0,1M-0.7,-0.7L0.7,0.7M-0.7,0.7L0.7,-0.7' : 'stroke'"}},
                    "size": {"value": {"expr": "datum.value === 'Neodredjenost etalona' ? 324 : datum.value === 'Korigovana sistematska neodredjenost' ? 576 : datum.value === 'Korigovana statisticka neodredjenost' ? 400 : 6400"}},
                    "stroke": {"value": {"expr": "datum.value === 'Korigovana kombinovana neodredjenost' ? '#ff0000' : datum.value === 'Granica primeljivosti' ? '#0000ff' : '#000000'"}},
                    "strokeDash": {"value": {"expr": "datum.value === 'Korigovana kombinovana neodredjenost' ? [12,5,3,5] : []"}},
                    "strokeWidth": {"value": {"expr": "indexof(['Korigovana kombinovana neodredjenost','Empirijski kriterijum','Granica primeljivosti'], datum.value) >= 0 ? 2 : 1.5"}},
                    "fill": {"value": "transparent"},
                    "opacity": {"value": 1}
                  }
                }
              }}
          }
        },
        {
          "data": {"name": "pts"},
          "transform": [{"filter": "datum.s === 'Korigovana sistematska neodredjenost'"}],
          "mark": {"type": "point", "shape": "M0,-1L0.74,0L0,1L-0.74,0Z", "size": 625, "filled": false, "strokeWidth": 1.8, "opacity": 1},
          "encoding": {
            "x": {"field": "d", "type": "quantitative", "scale": {"domain": [10, 80], "range": [261, 898], "nice": false, "zero": false}, "axis": null},
            "y": {"field": "u", "type": "quantitative", "scale": {"domain": [0, 0.25], "range": [848, 215], "nice": false, "zero": false}, "axis": null},
            "color": {"field": "s", "type": "nominal"}
          }
        },
        {
          "data": {"name": "pts"},
          "transform": [{"filter": "datum.s === 'Korigovana statisticka neodredjenost'"}],
          "mark": {"type": "point", "shape": "M-1,0L1,0M0,-1L0,1M-0.7,-0.7L0.7,0.7M-0.7,0.7L0.7,-0.7", "size": 420, "filled": false, "strokeWidth": 1.8, "opacity": 1},
          "encoding": {
            "x": {"field": "d", "type": "quantitative", "scale": {"domain": [10, 80], "range": [261, 898], "nice": false, "zero": false}, "axis": null},
            "y": {"field": "u", "type": "quantitative", "scale": {"domain": [0, 0.25], "range": [848, 215], "nice": false, "zero": false}, "axis": null},
            "color": {"field": "s", "type": "nominal"}
          }
        },
        {
          "data": {"name": "komb"},
          "mark": {"type": "line", "strokeDash": [12, 5, 3, 5], "strokeWidth": 2},
          "encoding": {
            "x": {"field": "d", "type": "quantitative", "scale": {"domain": [10, 80], "range": [261, 898], "nice": false, "zero": false}, "axis": null},
            "y": {"field": "u", "type": "quantitative", "scale": {"domain": [0, 0.25], "range": [848, 215], "nice": false, "zero": false}, "axis": null},
            "color": {"field": "s", "type": "nominal"}
          }
        },
        {
          "data": {"name": "crit"},
          "mark": {"type": "rule", "strokeWidth": 2},
          "encoding": {
            "x": {"datum": 10, "type": "quantitative", "scale": {"domain": [10, 80], "range": [261, 898], "nice": false, "zero": false}, "axis": null},
            "x2": {"datum": 80},
            "y": {"field": "u", "type": "quantitative", "scale": {"domain": [0, 0.25], "range": [848, 215], "nice": false, "zero": false},
              "axis": {"orient": "right", "offset": -524, "zindex": 1, "values": [0, 0.05, 0.1, 0.15, 0.2, 0.25], "labels": false, "tickSize": -8, "title": null}},
            "color": {"field": "s", "type": "nominal"}
          }
        },
        {
          "data": {"name": "gran"},
          "mark": {"type": "rule", "strokeWidth": 1.8},
          "encoding": {
            "x": {"field": "d", "type": "quantitative", "scale": {"domain": [10, 80], "range": [261, 898], "nice": false, "zero": false},
              "axis": {"orient": "top", "offset": -215, "zindex": 1, "values": [10, 20, 30, 40, 50, 60, 70, 80], "labels": false, "tickSize": -8, "title": null}},
            "y": {"datum": 0, "type": "quantitative", "scale": {"domain": [0, 0.25], "range": [848, 215], "nice": false, "zero": false}, "axis": null},
            "y2": {"datum": 0.25},
            "color": {"field": "s", "type": "nominal"}
          }
        },
        {
          "data": {"name": "lbl"},
          "mark": {"type": "text", "font": "Liberation Sans", "fontSize": 32, "color": "black", "align": "center", "baseline": "middle"},
          "encoding": {
            "x": {"field": "d", "type": "quantitative", "scale": {"domain": [10, 80], "range": [261, 898], "nice": false, "zero": false}, "axis": null},
            "y": {"field": "u", "type": "quantitative", "scale": {"domain": [0, 0.25], "range": [848, 215], "nice": false, "zero": false}, "axis": null},
            "text": {"field": "t", "type": "nominal"}
          }
        }
      ],
      "resolve": {"axis": {"x": "independent", "y": "independent"}}
    }
  ],
  "resolve": {"scale": {"x": "independent", "y": "independent"}, "axis": {"x": "independent", "y": "independent"}}
}
